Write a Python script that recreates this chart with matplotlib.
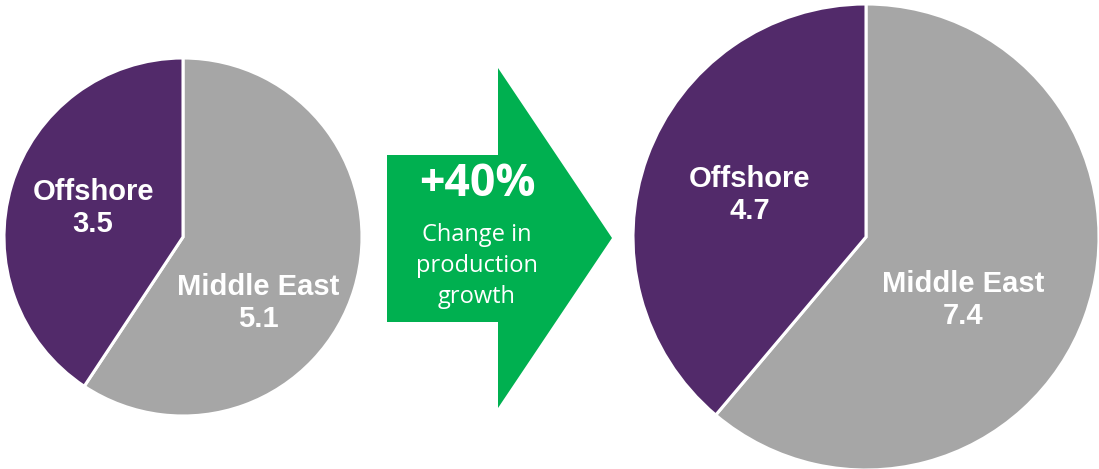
import matplotlib.pyplot as plt
from matplotlib.patches import Polygon

labels = ['Middle East', 'Offshore']
before = [5.1, 3.5]
after = [7.4, 4.7]
change_pct = 40
change_text = 'Change in\nproduction\ngrowth'

colors = ['#a6a6a6', '#522a6a']
W, H = 1099, 469

fig = plt.figure(figsize=(W / 100, H / 100), dpi=100)
ax = fig.add_axes([0, 0, 1, 1])


def Y(y):
    # pixel row from top -> data y
    return H - y


def draw_pie(vals, center, radius, pos):
    ax.pie(vals, colors=colors, startangle=90, counterclock=False,
           center=(center[0], Y(center[1])), radius=radius, frame=True,
           wedgeprops=dict(edgecolor='white', linewidth=2.2))
    for lab, v, (x, y) in zip(labels, vals, pos):
        ax.text(x, Y(y), f'{lab}\n{v:.1f}', color='white', ha='center',
                va='center', fontsize=21, fontweight='bold',
                family='Liberation Sans', linespacing=1.15)


draw_pie(before, (183, 237), 179, [(258, 303), (93, 208)])
draw_pie(after, (866, 237), 233, [(963, 300), (750, 195)])
ax.set_xlim(0, W)
ax.set_ylim(0, H)
ax.set_aspect('equal')
ax.axis('off')

# growth arrow
arrow = [(387, 155), (498, 155), (498, 68), (612, 238), (498, 408),
         (498, 322), (387, 322)]
ax.add_patch(Polygon([(x, Y(y)) for x, y in arrow], closed=True,
                     facecolor='#00b050', edgecolor='none'))
ax.text(477, Y(184), f'+{change_pct}%', color='white', ha='center',
        va='center', fontsize=32, fontweight='bold', family='Open Sans')
ax.text(477, Y(266), change_text, color='white', ha='center', va='center',
        fontsize=17, family='Open Sans', linespacing=1.4)

fig.savefig('out.png', dpi=100)
